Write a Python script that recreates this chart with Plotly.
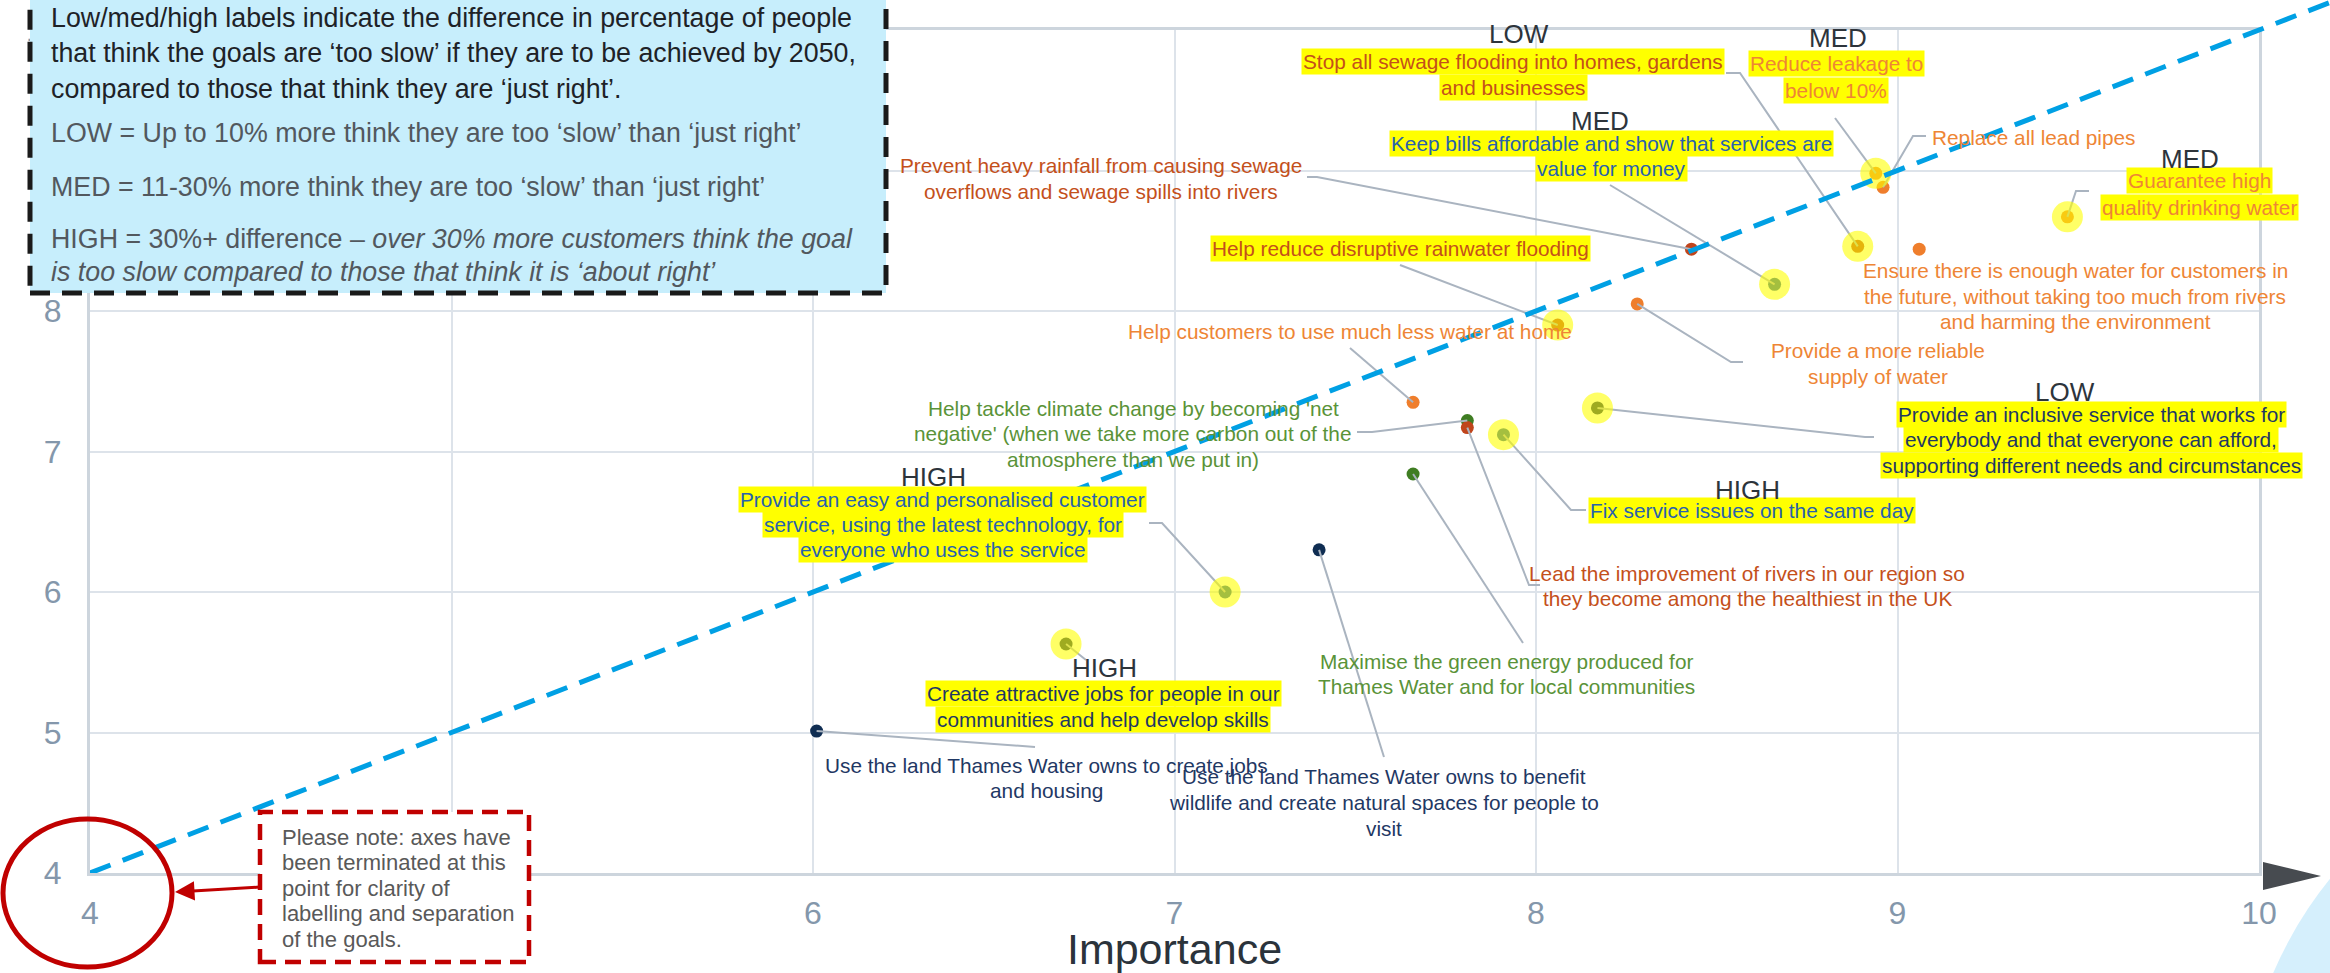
import plotly.graph_objects as go

W, H = 2330, 973

# ---------------- data ----------------
goal_lines = [
    ["Stop all sewage flooding into homes, gardens", "and businesses"],
    ["Reduce leakage to", "below 10%"],
    ["Replace all lead pipes"],
    ["Guarantee high", "quality drinking water"],
    ["Ensure there is enough water for customers in", "the future, without taking too much from rivers", "and harming the environment"],
    ["Keep bills affordable and show that services are", "value for money"],
    ["Prevent heavy rainfall from causing sewage", "overflows and sewage spills into rivers"],
    ["Help reduce disruptive rainwater flooding"],
    ["Provide a more reliable", "supply of water"],
    ["Help customers to use much less water at home"],
    ["Provide an inclusive service that works for", "everybody and that everyone can afford,", "supporting different needs and circumstances"],
    ["Fix service issues on the same day"],
    ["Help tackle climate change by becoming 'net", "negative' (when we take more carbon out of the", "atmosphere than we put in)"],
    ["Lead the improvement of rivers in our region so", "they become among the healthiest in the UK"],
    ["Maximise the green energy produced for", "Thames Water and for local communities"],
    ["Provide an easy and personalised customer", "service, using the latest technology, for", "everyone who uses the service"],
    ["Create attractive jobs for people in our", "communities and help develop skills"],
    ["Use the land Thames Water owns to create jobs", "and housing"],
    ["Use the land Thames Water owns to benefit", "wildlife and create natural spaces for people to", "visit"],
]
goals = [" ".join(l) for l in goal_lines]
importance = [8.89, 8.94, 8.96, 9.47, 9.06, 8.66, 8.43, 8.06, 8.28, 7.66,
              8.17, 7.91, 7.81, 7.81, 7.66, 7.14, 6.70, 6.01, 7.40]
y_score = [8.46, 8.98, 8.88, 8.67, 8.44, 8.19, 8.44, 7.90, 8.05, 7.35,
           7.31, 7.12, 7.22, 7.17, 6.84, 6.00, 5.63, 5.01, 6.30]
theme = ["wastewater", "water", "water", "water", "water", "customer", "wastewater",
         "wastewater", "water", "water", "community", "customer", "environment",
         "wastewater", "environment", "customer", "community", "community", "community"]
speed_gap = ["LOW", "MED", None, "MED", None, "MED", None, None, None, None,
             "LOW", "HIGH", None, None, None, "HIGH", "HIGH", None, None]
highlighted = [True, True, False, True, False, True, False, True, False, False,
               True, True, False, False, False, True, True, False, False]
x_ticks = [4, 5, 6, 7, 8, 9, 10]
y_ticks = [4, 5, 6, 7, 8, 9, 10]
parity = [4, 10.4]   # reference line where importance equals the vertical score

legend_lines = [
    ("Low/med/high labels indicate the difference in percentage of people", True),
    ("that think the goals are ‘too slow’ if they are to be achieved by 2050,", True),
    ("compared to those that think they are ‘just right’.", True),
    ("LOW = Up to 10% more think they are too ‘slow’ than ‘just right’", False),
    ("MED = 11-30% more think they are too ‘slow’ than ‘just right’", False),
    ("HIGH = 30%+ difference – <i>over 30% more customers think the goal</i>", False),
    ("<i>is too slow compared to those that think it is ‘about right’</i>", False),
]
note_lines = ["Please note: axes have", "been terminated at this", "point for clarity of",
              "labelling and separation", "of the goals."]

# ---------------- styles / layout positions ----------------
text_colour = {"wastewater": "#c4501b", "water": "#ee8535", "customer": "#2862ad",
               "community": "#1f3864", "environment": "#5a9338"}
dot_colour = {"wastewater": "#c0451c", "water": "#ef7e2c", "customer": "#1d5f9e",
              "community": "#0f2d52", "environment": "#3f7d22"}

SANS = "Liberation Sans, Arial, sans-serif"
LABEL_SIZE = 20.8

# label layout in pixels: centre x, first line y, line step, header pos, leader waypoints
label_layout = [
    dict(cx=1513, y0=61, dy=26.3, head=(1519, 34), leader=[(1740, 73), (1726, 73)]),
    dict(cx=1836, y0=64, dy=26, head=(1838, 38), leader=[(1835, 118)]),
    dict(cx=2033, y0=137, dy=26, head=None, leader=[(1913, 136), (1926, 136)]),
    dict(cx=2199, y0=180, dy=27, head=(2190, 159), leader=[(2076, 191), (2089, 191)]),
    dict(cx=2075, y0=270, dy=26, head=None, leader=[]),
    dict(cx=1611, y0=143.5, dy=25.5, head=(1600, 121), leader=[(1610, 185)]),
    dict(cx=1101, y0=165.7, dy=25.5, head=None, leader=[(1317, 177), (1307, 177)]),
    dict(cx=1400, y0=248.3, dy=26, head=None, leader=[(1400, 265)]),
    dict(cx=1878, y0=350, dy=26.7, head=None, leader=[(1731, 362), (1743, 362)]),
    dict(cx=1350, y0=331.7, dy=26, head=None, leader=[(1350, 348)]),
    dict(cx=2091, y0=414, dy=25.5, head=(2065, 392), leader=[(1865, 437), (1874, 437)]),
    dict(cx=1752, y0=511, dy=26, head=(1747, 490), leader=[(1571, 510), (1586, 510)]),
    dict(cx=1133, y0=408.3, dy=25.5, head=None, leader=[(1372, 432), (1357, 432)]),
    dict(cx=1747, y0=573, dy=25, head=None, leader=[(1529, 585), (1540, 585)]),
    dict(cx=1506, y0=661, dy=25.7, head=None, leader=[(1523, 643)]),
    dict(cx=943, y0=499.3, dy=25.3, head=(934, 477), leader=[(1162, 523), (1149, 523)]),
    dict(cx=1103, y0=693.3, dy=25.7, head=(1104, 668), leader=[(1086, 660)]),
    dict(cx=1046, y0=765, dy=25.7, head=None, leader=[(1035, 747)]),
    dict(cx=1384, y0=776, dy=26, head=None, leader=[(1384, 757)]),
]

# plot area (pixels) of the main axes
X0, X1 = 90, 2259   # horizontal pixels of 4 and 10
Y0, Y1 = 873, 30    # vertical pixels of 4 and 10
dom_x = [X0 / W, X1 / W]
dom_y = [1 - Y0 / H, 1 - Y1 / H]


def px_to_data(px, py):
    return (4 + (px - X0) / (X1 - X0) * 6, 4 + (Y0 - py) / (Y0 - Y1) * 6)


def px_to_paper(px, py):
    return px / W, 1 - py / H


n = len(goals)
fig = go.Figure()

# dots by theme
for th in ["community", "environment", "customer", "water", "wastewater"]:
    idx = [i for i in range(n) if theme[i] == th]
    fig.add_trace(go.Scatter(
        x=[importance[i] for i in idx], y=[y_score[i] for i in idx],
        mode="markers", marker=dict(size=13, color=dot_colour[th], line=dict(width=0)),
        hovertext=[goals[i] for i in idx], hoverinfo="text", showlegend=False,
        cliponaxis=False))

# leader lines
for i, lay in enumerate(label_layout):
    if not lay["leader"]:
        continue
    xs, ys = [importance[i]], [y_score[i]]
    for (px, py) in lay["leader"]:
        dx, dy = px_to_data(px, py)
        xs.append(dx)
        ys.append(dy)
    fig.add_trace(go.Scatter(x=xs, y=ys, mode="lines",
                             line=dict(color="#aab4c0", width=2),
                             hoverinfo="skip", showlegend=False))

# highlight halos
hidx = [i for i in range(n) if highlighted[i]]
fig.add_trace(go.Scatter(
    x=[importance[i] for i in hidx], y=[y_score[i] for i in hidx], mode="markers",
    marker=dict(size=31, color="rgba(255,255,0,0.6)", line=dict(width=0)),
    hoverinfo="skip", showlegend=False, cliponaxis=False))

# dashed parity line on an extended invisible axis pair
x2_max = 4 + 6 * (1 - dom_x[0]) / (dom_x[1] - dom_x[0])
y2_max = 4 + 6 * (1 - dom_y[0]) / (dom_y[1] - dom_y[0])
fig.add_trace(go.Scatter(x=parity, y=parity, xaxis="x2", yaxis="y2", mode="lines",
                         line=dict(color="#00a0e4", width=5, dash="22px,13px"),
                         hoverinfo="skip", showlegend=False))

annotations = []
for i, lay in enumerate(label_layout):
    col = text_colour[theme[i]]
    for k, line in enumerate(goal_lines[i]):
        px, py = px_to_paper(lay["cx"], lay["y0"] + k * lay["dy"])
        a = dict(x=px, y=py, xref="paper", yref="paper", text=line, showarrow=False,
                 xanchor="center", yanchor="middle",
                 font=dict(family=SANS, size=LABEL_SIZE, color=col), borderpad=1)
        if highlighted[i]:
            a["bgcolor"] = "#ffff00"
        annotations.append(a)
    if lay["head"] and speed_gap[i]:
        px, py = px_to_paper(*lay["head"])
        annotations.append(dict(x=px, y=py, xref="paper", yref="paper", text=speed_gap[i],
                                showarrow=False, xanchor="center", yanchor="middle",
                                font=dict(family=SANS, size=26, color="#2d343b")))

# explanation box text
legend_y = [18, 53.5, 89, 132.5, 187, 239, 272]
for (txt, strong), ly in zip(legend_lines, legend_y):
    px, py = px_to_paper(49, ly)
    annotations.append(dict(x=px, y=py, xref="paper", yref="paper", text=txt, showarrow=False,
                            xanchor="left", yanchor="middle",
                            font=dict(family=SANS, size=26.8,
                                      color="#1e2227" if strong else "#52585e")))

# note box text
for k, txt in enumerate(note_lines):
    px, py = px_to_paper(280, 837 + k * 25.5)
    annotations.append(dict(x=px, y=py, xref="paper", yref="paper", text=txt, showarrow=False,
                            xanchor="left", yanchor="middle",
                            font=dict(family=SANS, size=22, color="#595959")))

# red arrow from note box to the circled origin
ax_, ay_ = px_to_paper(175, 892)
annotations.append(dict(x=ax_, y=ay_, xref="paper", yref="paper", text="", showarrow=True,
                        ax=86, ay=-5, arrowhead=2, arrowsize=1.3, arrowwidth=3,
                        arrowcolor="#c00000", standoff=0))

shapes = []
# decorative light blue circle, bottom right
cxp, cyp, r = 2640, 1130, 399
shapes.append(dict(type="circle", xref="paper", yref="paper",
                   x0=(cxp - r) / W, x1=(cxp + r) / W,
                   y0=1 - (cyp + r) / H, y1=1 - (cyp - r) / H,
                   fillcolor="#d5effc", line=dict(width=0), layer="below"))
# arrow head at the end of the horizontal axis
p1, p2, p3 = px_to_paper(2263, 862), px_to_paper(2263, 890), px_to_paper(2321, 876)
shapes.append(dict(type="path", xref="paper", yref="paper",
                   path=f"M {p1[0]},{p1[1]} L {p2[0]},{p2[1]} L {p3[0]},{p3[1]} Z",
                   fillcolor="#474b50", line=dict(width=0), layer="above"))
# explanation box
shapes.append(dict(type="rect", xref="paper", yref="paper",
                   x0=30 / W, x1=886 / W, y0=1 - 293 / H, y1=1.05,
                   fillcolor="#c7eefc", line=dict(color="#1a1a1a", width=5, dash="20px,12px"),
                   layer="above"))
# note box
shapes.append(dict(type="rect", xref="paper", yref="paper",
                   x0=260 / W, x1=529 / W, y0=1 - 962 / H, y1=1 - 812 / H,
                   fillcolor="white", line=dict(color="#c00000", width=4.5, dash="16px,9px"),
                   layer="above"))
# red circle around origin
shapes.append(dict(type="circle", xref="paper", yref="paper",
                   x0=3 / W, x1=172 / W, y0=1 - 967 / H, y1=1 - 819 / H,
                   line=dict(color="#c00000", width=5), layer="above"))

axis_common = dict(range=[4, 10], tickvals=x_ticks, showgrid=True, gridcolor="#dde3ea",
                   gridwidth=2, showline=True, linecolor="#cdd5dd", linewidth=3,
                   mirror=True, zeroline=False, ticks="", automargin=False,
                   tickfont=dict(family=SANS, size=32, color="#8497ab"))

fig.update_layout(
    template="none",
    width=W, height=H,
    margin=dict(l=0, r=0, t=0, b=0),
    paper_bgcolor="white", plot_bgcolor="rgba(0,0,0,0)",
    font=dict(family=SANS),
    showlegend=False,
    xaxis=dict(**axis_common, domain=dom_x, ticklabelstandoff=10,
               title=dict(text="Importance", font=dict(family=SANS, size=43, color="#2b333b"),
                          standoff=8)),
    yaxis=dict(**{**axis_common, "tickvals": y_ticks}, domain=dom_y, ticklabelstandoff=19),
    xaxis2=dict(domain=[dom_x[0], 1], range=[4, x2_max], anchor="y2", visible=False),
    yaxis2=dict(domain=[dom_y[0], 1], range=[4, y2_max], anchor="x2", visible=False),
    annotations=annotations,
    shapes=shapes,
)

fig.write_html("out.html", config={"displayModeBar": False},
               post_script="document.body.style.margin='0';")
